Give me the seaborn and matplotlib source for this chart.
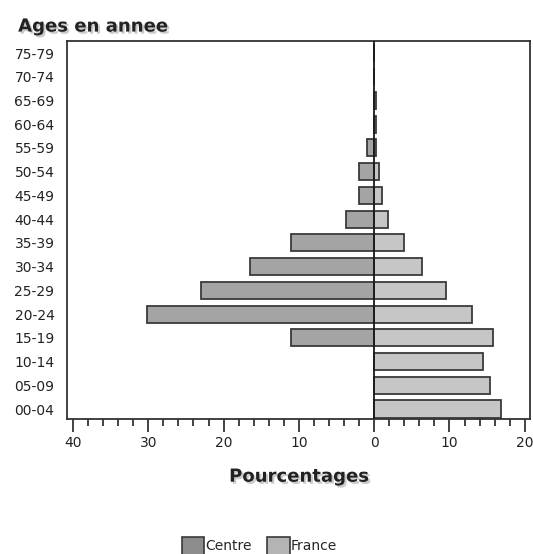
import matplotlib
matplotlib.use("Agg")
import matplotlib.pyplot as plt
import matplotlib.patheffects as pe
from matplotlib.patches import Patch
from matplotlib.ticker import MultipleLocator, FuncFormatter
import seaborn as sns
import pandas as pd

ages = ["75-79", "70-74", "65-69", "60-64", "55-59", "50-54", "45-49", "40-44",
        "35-39", "30-34", "25-29", "20-24", "15-19", "10-14", "05-09", "00-04"]
centre = [0, 0, 0, 0, 1.0, 2.0, 2.0, 3.8, 11.1, 16.5, 23.0, 30.2, 11.1, 0, 0, 0]
france = [0, 0, 0.3, 0.3, 0.3, 0.7, 1.1, 1.9, 4.0, 6.4, 9.5, 13.0, 15.8, 14.4, 15.4, 16.8]
series_names = ["Centre", "France"]

df_c = pd.DataFrame({"age": ages, "val": [-v for v in centre]})
df_f = pd.DataFrame({"age": ages, "val": france})

sns.set_theme(style="white")
plt.rcParams["font.family"] = ["DejaVu Sans"]

fig = plt.figure(figsize=(5.33, 5.54), dpi=100)
ax = fig.add_axes([0.1257, 0.2437, 0.8687, 0.6823])

edge = "#3a3a3a"
sns.barplot(data=df_c, x="val", y="age", order=ages, orient="h", color="#a4a4a4",
            saturation=1, edgecolor=edge, linewidth=1.3, width=0.72, ax=ax)
sns.barplot(data=df_f, x="val", y="age", order=ages, orient="h", color="#c6c6c6",
            saturation=1, edgecolor=edge, linewidth=1.3, width=0.72, ax=ax)

ax.axvline(0, color="#1a1a1a", lw=1.3, zorder=5)
ax.set_xlim(-40.8, 20.7)
ax.set_ylim(15.42, -0.506)

ax.xaxis.set_major_locator(MultipleLocator(10))
ax.xaxis.set_minor_locator(MultipleLocator(2))
ax.xaxis.set_major_formatter(FuncFormatter(lambda v, p: f"{abs(int(round(v)))}"))
ax.tick_params(axis="x", which="major", direction="out", length=9, width=1.2,
               color="#222222", labelsize=10, pad=3, labelcolor="#222222", bottom=True)
ax.tick_params(axis="x", which="minor", direction="out", length=5, width=1.2,
               color="#222222", bottom=True)
ax.tick_params(axis="y", length=0, pad=9, labelsize=10, labelcolor="#222222")

for s in ax.spines.values():
    s.set_visible(True)
    s.set_color("#333333")
    s.set_linewidth(1.3)

ax.set_ylabel("")
ax.set_xlabel("Pourcentages", fontsize=13, fontweight="bold", color="#222222", labelpad=13,
              path_effects=[pe.withSimplePatchShadow(offset=(1.5, -1.5), shadow_rgbFace="#999999", alpha=0.5)])

fig.text(0.034, 0.943, "Ages en annee", fontsize=13, fontweight="bold", color="#222222",
         ha="left", va="baseline",
         path_effects=[pe.withSimplePatchShadow(offset=(1.5, -1.5), shadow_rgbFace="#999999", alpha=0.5)])

handles = [Patch(facecolor="#8c8c8c", edgecolor=edge, linewidth=1.2, label=series_names[0]),
           Patch(facecolor="#b4b4b4", edgecolor=edge, linewidth=1.2, label=series_names[1])]
fig.legend(handles=handles, loc="center", bbox_to_anchor=(0.487, 0.015), ncol=2, frameon=False,
           fontsize=10, handlelength=1.6, handleheight=1.6, handletextpad=0.1, columnspacing=1.1,
           borderaxespad=0)

fig.savefig("out.png", dpi=100)
